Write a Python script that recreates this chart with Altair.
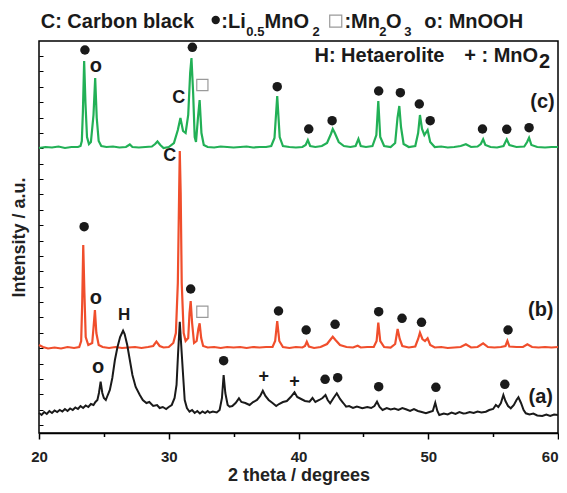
import altair as alt
import pandas as pd

FONT = "Liberation Sans"
GREEN = "#22b056"
RED = "#f04e2c"
BLACK = "#1a1a1a"

# trace (c): (2theta, intensity)
TRACE_C = [
    (20.0, 285), (20.5, 286), (21.0, 285.5), (21.5, 286.5), (22.0, 285), (22.5, 286), (23.0, 286),
    (23.2, 287), (23.3, 292), (23.38, 320), (23.48, 372), (23.58, 330), (23.7, 296), (23.85, 289),
    (24.0, 291), (24.2, 318), (24.33, 355), (24.45, 315), (24.6, 292), (24.8, 287), (25.2, 286),
    (25.7, 286.5), (26.2, 285.5), (26.7, 286), (27.0, 288.5), (27.2, 286), (27.7, 285.5), (28.2, 286),
    (28.7, 286.5), (28.95, 289), (29.13, 291.5), (29.35, 288), (29.6, 285), (30.0, 286), (30.4, 290),
    (30.7, 303), (30.9, 315), (31.1, 302), (31.3, 300), (31.5, 318), (31.65, 360), (31.75, 375),
    (31.88, 340), (32.0, 296), (32.1, 291), (32.25, 315), (32.38, 333), (32.52, 300), (32.7, 288),
    (33.0, 286), (33.5, 285.5), (34.0, 286.5), (34.5, 286), (35.0, 285.5), (35.5, 286), (36.0, 286.5),
    (36.5, 285.5), (37.0, 286), (37.5, 286), (37.9, 287), (38.15, 295), (38.36, 337), (38.55, 296),
    (38.8, 287), (39.3, 286), (39.8, 285.5), (40.3, 286), (40.55, 288), (40.72, 293), (40.9, 287),
    (41.3, 286), (41.8, 287), (42.2, 290), (42.5, 299), (42.64, 304), (42.8, 300), (43.1, 291),
    (43.5, 287), (44.0, 286), (44.4, 287), (44.62, 294), (44.8, 287), (45.2, 286), (45.7, 287),
    (46.0, 298), (46.15, 332), (46.3, 296), (46.6, 287), (47.1, 286), (47.45, 290), (47.63, 315),
    (47.77, 327), (47.9, 306), (48.1, 289), (48.5, 286), (49.0, 287), (49.22, 300), (49.36, 318),
    (49.52, 304), (49.7, 298), (49.95, 303), (50.15, 291), (50.5, 286), (51.0, 286.5), (51.5, 285.5),
    (52.0, 286), (52.5, 287), (52.9, 288.7), (53.3, 286), (53.8, 286.5), (54.05, 289), (54.23, 293.7),
    (54.4, 288), (54.8, 286), (55.3, 285.5), (55.8, 287), (56.05, 293.7), (56.25, 288), (56.8, 286),
    (57.4, 286.5), (57.62, 291), (57.77, 295.3), (57.95, 288), (58.4, 286), (59.0, 285.5), (59.5, 286),
    (60.0, 286),
]

# trace (b)
TRACE_B = [
    (20.0, 88), (20.3, 86), (20.7, 84.5), (21.2, 85.5), (21.7, 84.5), (22.2, 86), (22.7, 85), (23.1, 86),
    (23.25, 92), (23.33, 130), (23.41, 188), (23.5, 140), (23.6, 96), (23.8, 88), (24.1, 90), (24.2, 105),
    (24.31, 123), (24.42, 100), (24.6, 88), (24.9, 86), (25.4, 85), (25.9, 86), (26.4, 85), (26.9, 85.5),
    (27.4, 86), (27.9, 85), (28.4, 86), (28.8, 87), (29.05, 91.3), (29.3, 87), (29.6, 85.5), (30.0, 86),
    (30.35, 90), (30.55, 100), (30.7, 150), (30.8, 240), (30.85, 282), (30.92, 240), (31.0, 150),
    (31.15, 100), (31.3, 92), (31.5, 95), (31.6, 120), (31.69, 132), (31.8, 110), (31.95, 90),
    (32.15, 92), (32.28, 104), (32.38, 109.7), (32.5, 95), (32.65, 87), (33.0, 85.5), (33.5, 86),
    (34.0, 85), (34.5, 86), (35.0, 85.5), (35.5, 86), (36.0, 85), (36.5, 86), (37.0, 85.5), (37.5, 86),
    (38.0, 86), (38.2, 92), (38.36, 112), (38.52, 92), (38.8, 86), (39.3, 85), (39.8, 86), (40.3, 85.5),
    (40.5, 87), (40.64, 91.3), (40.8, 86.5), (41.2, 85), (41.7, 86), (42.2, 89), (42.5, 94),
    (42.64, 96.3), (42.85, 93), (43.2, 88), (43.7, 86), (44.2, 85.5), (44.56, 87.3), (44.8, 85.5),
    (45.3, 86), (45.8, 86), (46.02, 92), (46.15, 110.3), (46.3, 92), (46.6, 86), (47.1, 85.5),
    (47.45, 89), (47.64, 104), (47.8, 94), (48.0, 87), (48.5, 85.5), (49.0, 86.5), (49.22, 94),
    (49.36, 100.3), (49.55, 94), (49.75, 92), (49.95, 94.7), (50.15, 88), (50.5, 85.5), (51.0, 86),
    (51.5, 85), (52.0, 85.5), (52.5, 86), (52.9, 88.7), (53.3, 85.5), (53.8, 86), (54.23, 89.7),
    (54.6, 86), (55.1, 85.5), (55.6, 86), (55.95, 87), (56.1, 92), (56.25, 86.5), (56.8, 86),
    (57.3, 86), (57.64, 88.7), (58.0, 86), (58.5, 85.5), (59.0, 86), (59.5, 85.5), (60.0, 86),
]

# trace (a)
TRACE_A = [
    (20.0, 20), (20.2, 18), (20.4, 21), (20.6, 19), (20.8, 22), (21.0, 20), (21.2, 22.5), (21.4, 21),
    (21.6, 23), (21.8, 21.5), (22.0, 24), (22.2, 22), (22.4, 24.5), (22.6, 23), (22.8, 25.5), (23.0, 24),
    (23.2, 27), (23.4, 25), (23.6, 27.5), (23.8, 26), (24.0, 29), (24.2, 28), (24.35, 31), (24.5, 33),
    (24.62, 40), (24.75, 51.3), (24.88, 40), (25.0, 35), (25.15, 33), (25.3, 38), (25.46, 43),
    (25.65, 55), (25.85, 73), (26.05, 86), (26.25, 96), (26.48, 102.3), (26.6, 99), (26.8, 88),
    (27.0, 73), (27.2, 58), (27.45, 46), (27.77, 38), (28.0, 33), (28.28, 30), (28.5, 31), (28.8, 27),
    (29.1, 28), (29.3, 25), (29.54, 26), (29.8, 24), (30.0, 26), (30.23, 28), (30.45, 35), (30.6, 48),
    (30.72, 80), (30.85, 111.3), (30.95, 90), (31.08, 63), (31.23, 33), (31.4, 25), (31.6, 21.3),
    (31.8, 23), (32.0, 20), (32.2, 22), (32.4, 19.5), (32.6, 21.5), (32.8, 20), (33.0, 22),
    (33.15, 20.3), (33.4, 21.5), (33.7, 20.5), (33.92, 23), (34.1, 35), (34.23, 58), (34.36, 40),
    (34.54, 28), (34.69, 26.3), (34.9, 27), (35.15, 30), (35.41, 34.7), (35.6, 31), (35.9, 30),
    (36.23, 28), (36.5, 31), (36.8, 33), (37.05, 37), (37.25, 42.3), (37.45, 37), (37.7, 33),
    (38.0, 30), (38.28, 27), (38.5, 29), (38.8, 31), (39.1, 32), (39.4, 36), (39.69, 40.7), (39.9, 36),
    (40.2, 34), (40.5, 32), (40.85, 31.3), (41.08, 35), (41.3, 31), (41.6, 33), (41.85, 35),
    (42.08, 38), (42.25, 33), (42.44, 29.7), (42.7, 35), (42.95, 39.7), (43.2, 34), (43.45, 30),
    (43.67, 26.3), (43.9, 27), (44.2, 25), (44.5, 26.5), (44.92, 24.7), (45.3, 26), (45.6, 25),
    (45.85, 27), (46.05, 31.3), (46.25, 26), (46.48, 23), (46.8, 25), (47.1, 23.5), (47.4, 24.5),
    (47.7, 23), (48.0, 25), (48.28, 23.7), (48.6, 22), (48.9, 24), (49.2, 22), (49.5, 21),
    (49.82, 19.7), (50.1, 21), (50.35, 22), (50.54, 30.3), (50.7, 22), (50.85, 18), (51.2, 19.5),
    (51.5, 18.5), (51.8, 20.5), (52.1, 19), (52.4, 21), (52.7, 19.5), (52.9, 19.7), (53.2, 21),
    (53.5, 20), (53.8, 21.5), (54.1, 20.5), (54.44, 21.3), (54.7, 23), (55.0, 24), (55.21, 28),
    (55.4, 26), (55.6, 30), (55.79, 38), (55.95, 32), (56.15, 27), (56.36, 24.7), (56.6, 28),
    (56.8, 33), (56.95, 35.7), (57.15, 30), (57.35, 23), (57.52, 19.7), (57.8, 18.5), (58.1, 19.5),
    (58.4, 17.5), (58.79, 17), (59.1, 18.5), (59.4, 17), (59.7, 18.5), (60.0, 18),
]

# Li0.5MnO2 peak markers
DOTS = [
    (23.54, 383), (31.82, 385.7), (38.36, 346.3), (40.79, 304), (42.59, 312.3), (46.18, 342),
    (47.85, 340.3), (49.31, 329), (50.15, 312.3), (54.18, 304), (56.05, 303.7), (57.77, 305.3),
    (23.48, 206.3), (31.69, 144), (38.46, 122), (40.59, 103), (42.82, 108.7), (46.18, 121.3),
    (47.98, 114.7), (49.48, 110.7), (56.15, 103),
    (34.23, 72.3), (42.05, 53.7), (43.02, 55.3), (46.18, 46.3), (50.59, 45.7), (55.9, 48.7),
]
# Mn2O3 markers
SQUARES = [(32.59, 348), (32.59, 121.3)]
# letter markers: text, 2theta, intensity, font size
PEAK_LABELS = [
    ("C", 30.77, 334.7, 18), ("C", 30.08, 277, 18),
    ("o", 24.38, 367.3, 20), ("o", 24.38, 134.7, 20), ("o", 24.56, 66.3, 20),
    ("H", 26.56, 118, 17), ("+", 37.33, 55.7, 18), ("+", 39.69, 51.5, 18),
    ("(c)", 58.81, 331.3, 20), ("(b)", 58.67, 123, 20), ("(a)", 58.67, 35.7, 20),
]
# key text: text, 2theta, intensity (baseline), font size
KEY_TEXT = [
    ("C: Carbon black", 20.13, 404.7, 20), (":Li", 34.05, 404.7, 20), ("0.5", 35.98, 397, 13),
    ("MnO", 37.38, 404.7, 20), ("2", 41.08, 397, 13), (":Mn", 43.54, 404.7, 20), ("2", 46.23, 397, 13),
    ("O", 46.75, 404.7, 20), ("3", 48.15, 397, 13), ("o: MnOOH", 49.69, 404.7, 20),
    ("H: Hetaerolite", 41.23, 371.3, 20), ("+ : MnO", 52.77, 371.3, 20), ("2", 58.54, 365, 20),
]
KEY_DOT = [(33.62, 413)]
KEY_SQUARE = [(42.87, 411.8)]

X_TICKS = [20, 25, 30, 35, 40, 45, 50, 55, 60]
Y_TICKS = [8, 23.4, 38.8, 54.1, 69.5, 84.9, 100.3, 115.6, 131, 146.4, 161.8, 177.1, 192.5,
           207.9, 223.3, 238.6, 254, 269.4, 284.8, 300.1, 315.5, 330.9, 346.3, 361.6, 377]

X = alt.X("deg:Q", scale=alt.Scale(domain=[20, 60], nice=False, zero=False),
          axis=alt.Axis(values=X_TICKS, labelExpr="datum.value % 10 === 0 ? datum.label : ''",
                        title="2 theta / degrees", grid=False,
                        tickSize={"condition": {"test": "datum.value % 10 === 0", "value": 6}, "value": 3.5},
                        tickWidth=1.5, tickColor="black", domainColor="black", domainWidth=1.5,
                        labelFlush=False,
                        labelAlign={"condition": {"test": "datum.value === 60", "value": "right"},
                                    "value": "center"},
                        labelFont=FONT, labelFontSize=15, labelFontWeight="bold", labelColor="#222",
                        labelPadding=10, titleFont=FONT, titleFontSize=18, titleFontWeight="bold",
                        titleColor="#222", titlePadding=2))
Y = alt.Y("I:Q", scale=alt.Scale(domain=[0, 392], nice=False, zero=False),
          axis=alt.Axis(values=Y_TICKS, labels=False, domain=False, grid=False, tickSize=4,
                        tickWidth=1, tickColor="black", offset=-4,
                        title="Intensity / a.u.", titleFont=FONT, titleFontSize=18,
                        titleFontWeight="bold", titleColor="#222", titlePadding=10))


def frame(points, cols=("deg", "I")):
    return pd.DataFrame(points, columns=list(cols))


lines = [
    alt.Chart(frame(TRACE_C)).mark_line(color=GREEN, strokeWidth=2.2).encode(x=X, y=Y),
    alt.Chart(frame(TRACE_B)).mark_line(color=RED, strokeWidth=2.2).encode(x=X, y=Y),
    alt.Chart(frame(TRACE_A)).mark_line(color=BLACK, strokeWidth=2).encode(x=X, y=Y),
]
dots = alt.Chart(frame(DOTS)).mark_point(shape="circle", filled=True, color=BLACK, size=90,
                                         opacity=1).encode(x=X, y=Y)
squares = alt.Chart(frame(SQUARES)).mark_point(shape="square", filled=False, stroke="#9a9a9a",
                                               strokeWidth=1.2, size=125, opacity=1).encode(x=X, y=Y)
peak_labels = alt.Chart(frame(PEAK_LABELS, ("t", "deg", "I", "fs"))).mark_text(
    font=FONT, fontWeight="bold", color=BLACK, align="center", baseline="middle"
).encode(x=X, y=Y, text="t:N", size=alt.Size("fs:Q", scale=None))
key_text = alt.Chart(frame(KEY_TEXT, ("t", "deg", "I", "fs"))).mark_text(
    font=FONT, fontWeight="bold", color=BLACK, align="left", baseline="alphabetic"
).encode(x=X, y=Y, text="t:N", size=alt.Size("fs:Q", scale=None))
key_dot = alt.Chart(frame(KEY_DOT)).mark_point(shape="circle", filled=True, color=BLACK, size=70,
                                               opacity=1).encode(x=X, y=Y)
key_square = alt.Chart(frame(KEY_SQUARE)).mark_point(shape="square", filled=False, stroke="#9a9a9a",
                                                     strokeWidth=1.2, size=145, opacity=1).encode(x=X, y=Y)

chart = alt.layer(*lines, dots, squares, peak_labels, key_text, key_dot, key_square).properties(
    width=519, height=392,
    autosize=alt.AutoSizeParams(type="none"),
    padding={"left": 31, "top": 33, "right": 1, "bottom": 52},
    background="white",
).configure_view(stroke="black", strokeWidth=1.5)

chart.save("out.html", embed_options={"renderer": "svg", "actions": False})
